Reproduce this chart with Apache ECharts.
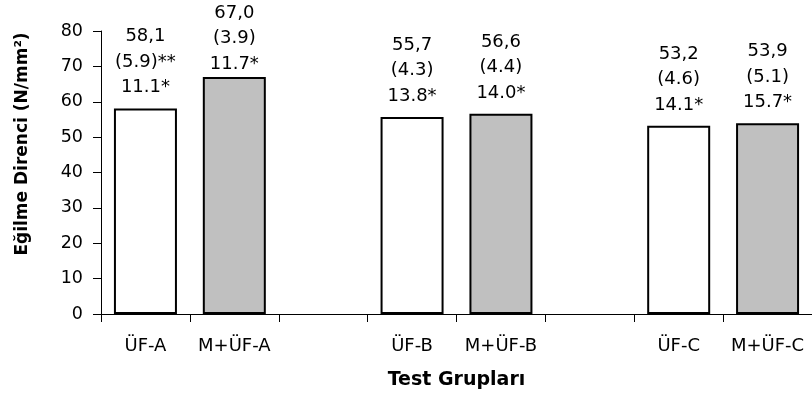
<!DOCTYPE html>
<html>
<head>
<meta charset="utf-8">
<script src="https://cdn.jsdelivr.net/npm/echarts@6/dist/echarts.min.js"></script>
<style>
html,body{margin:0;padding:0;background:#fff;}
#chart{width:812px;height:398px;}
</style>
</head>
<body>
<div id="chart"></div>
<script>
var categories = ['ÜF-A', 'M+ÜF-A', '', 'ÜF-B', 'M+ÜF-B', '', 'ÜF-C', 'M+ÜF-C'];
var meanValues = [58.1, 67.0, null, 55.7, 56.6, null, 53.2, 53.9];
var meanText = ['58,1', '67,0', '', '55,7', '56,6', '', '53,2', '53,9'];
var sdText = ['(5.9)**', '(3.9)', '', '(4.3)', '(4.4)', '', '(4.6)', '(5.1)'];
var cvText = ['11.1*', '11.7*', '', '13.8*', '14.0*', '', '14.1*', '15.7*'];
var yTicks = [0, 10, 20, 30, 40, 50, 60, 70, 80];

var FONT = 'DejaVu Sans';
var fills = ['#ffffff', '#c0c0c0'];

var data = meanValues.map(function (v, i) {
  if (v === null) return null;
  var isM = categories[i].indexOf('M+') === 0;
  return {
    value: v,
    itemStyle: { color: isM ? fills[1] : fills[0] },
    label: { distance: i === 1 ? 0 : 8 }
  };
});

var chart = echarts.init(document.getElementById('chart'), null, { renderer: 'canvas' });
chart.setOption({
  animation: false,
  backgroundColor: '#ffffff',
  grid: { left: 101, right: -4, top: 31, bottom: 84, containLabel: false },
  xAxis: {
    type: 'category',
    data: categories,
    boundaryGap: true,
    axisLine: { lineStyle: { color: '#000', width: 1 } },
    axisTick: { show: true, length: 8, lineStyle: { color: '#000' }, alignWithLabel: false, interval: 0 },
    axisLabel: { interval: 0, margin: 23, color: '#000', fontFamily: FONT, fontSize: 18 },
    name: 'Test Grupları',
    nameLocation: 'middle',
    nameGap: 57,
    nameTextStyle: { color: '#000', fontFamily: FONT, fontSize: 19, fontWeight: 'bold' }
  },
  yAxis: {
    type: 'value',
    min: yTicks[0],
    max: yTicks[yTicks.length - 1],
    interval: 10,
    splitLine: { show: false },
    axisLine: { show: true, lineStyle: { color: '#000', width: 1 } },
    axisTick: { show: true, length: 8, lineStyle: { color: '#000' } },
    axisLabel: { margin: 18, color: '#000', fontFamily: FONT, fontSize: 17.5 },
    name: 'Eğilme Direnci (N/mm²)',
    nameLocation: 'middle',
    nameGap: 70,
    nameTextStyle: { color: '#000', fontFamily: FONT, fontSize: 17, fontWeight: 'bold', padding: [0, 0, 0, 57] }
  },
  series: [{
    type: 'bar',
    data: data,
    barWidth: 63,
    itemStyle: { borderColor: '#000', borderWidth: 2 },
    label: {
      show: true,
      position: 'top',
      color: '#000',
      fontFamily: FONT,
      fontSize: 18,
      lineHeight: 25.5,
      align: 'center',
      formatter: function (p) {
        var i = p.dataIndex;
        return meanText[i] + '\n' + sdText[i] + '\n' + cvText[i];
      }
    }
  }]
});
</script>
</body>
</html>
